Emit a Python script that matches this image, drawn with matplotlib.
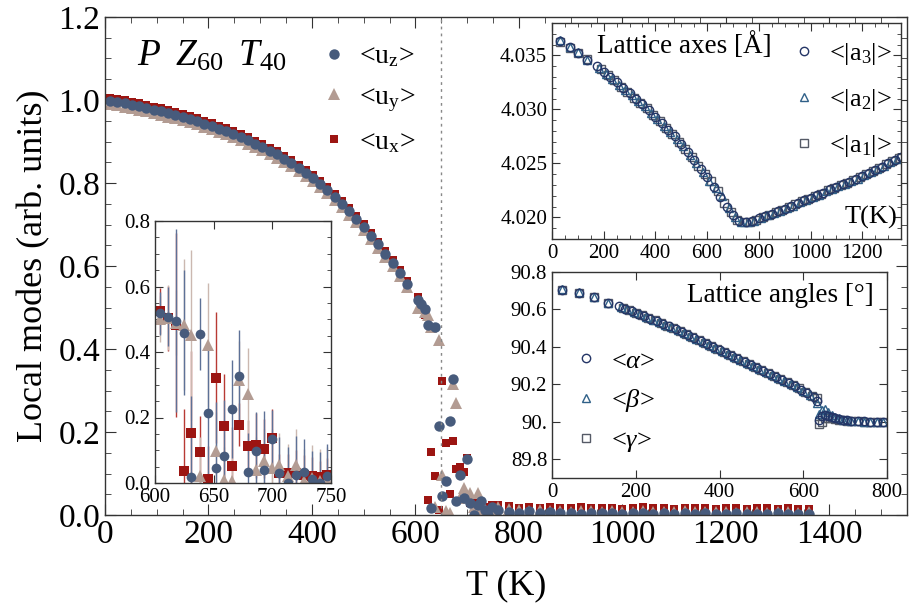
import matplotlib
matplotlib.use("Agg")
import matplotlib.pyplot as plt
from matplotlib.ticker import MultipleLocator, FormatStrFormatter, FixedLocator, FixedFormatter

plt.rcParams['font.family'] = ['Liberation Serif', 'DejaVu Serif']
plt.rcParams['mathtext.fontset'] = 'custom'
plt.rcParams['mathtext.rm'] = 'Liberation Serif'
plt.rcParams['mathtext.it'] = 'Liberation Serif:italic'

# ---- main panel: local modes vs T ----
T_curve = [10, 24, 38, 52, 66, 80, 94, 108, 122, 136, 150, 164, 178, 192, 206, 220, 234,
           248, 262, 276, 290, 304, 318, 332, 346, 360, 374, 388, 402, 416, 430, 444, 458,
           472, 486, 500, 514, 528, 542, 556, 570, 584]
uz_curve = [0.998, 0.995, 0.992, 0.988, 0.985, 0.981, 0.977, 0.973, 0.968, 0.964, 0.959,
            0.954, 0.949, 0.943, 0.937, 0.931, 0.925, 0.918, 0.911, 0.903, 0.895, 0.887,
            0.878, 0.869, 0.859, 0.848, 0.837, 0.825, 0.812, 0.798, 0.783, 0.767, 0.750,
            0.732, 0.713, 0.694, 0.673, 0.652, 0.630, 0.607, 0.583, 0.557]
uy_curve = [0.990, 0.987, 0.984, 0.980, 0.977, 0.973, 0.969, 0.965, 0.960, 0.956, 0.951,
            0.946, 0.941, 0.935, 0.929, 0.923, 0.917, 0.910, 0.903, 0.895, 0.887, 0.879,
            0.870, 0.861, 0.851, 0.840, 0.829, 0.817, 0.804, 0.790, 0.775, 0.759, 0.742,
            0.724, 0.705, 0.686, 0.665, 0.644, 0.622, 0.599, 0.575, 0.549]
ux_curve = [1.005, 1.002, 0.999, 0.995, 0.992, 0.988, 0.984, 0.980, 0.975, 0.971, 0.966,
            0.961, 0.956, 0.950, 0.944, 0.938, 0.932, 0.925, 0.918, 0.910, 0.902, 0.894,
            0.885, 0.876, 0.866, 0.855, 0.844, 0.832, 0.819, 0.805, 0.790, 0.774, 0.757,
            0.739, 0.720, 0.701, 0.680, 0.659, 0.637, 0.614, 0.590, 0.564]

# transition region (also shown in the zoom inset, with error bars)
T_tr = [604, 611, 618, 625, 631, 638, 645, 652, 659, 666, 672, 679, 686, 693, 700, 706,
        713, 720, 727, 734, 741, 747]
uz_tr = [0.518, 0.508, 0.496, 0.459, 0.017, 0.454, 0.215, 0.046, 0.083, 0.227, 0.327,
         0.034, 0.097, 0.041, 0.134, 0.030, 0.0, 0.025, 0.033, 0.012, 0.0, 0.020]
uz_err = [0.065, 0.09, 0.28, 0.19, 0.25, 0.11, 0.2, 0.2, 0.17, 0.15, 0.14, 0.12, 0.12,
          0.18, 0.09, 0.11, 0.11, 0.12, 0.1, 0.085, 0.095, 0.1]
uy_tr = [0.500, 0.505, 0.490, 0.483, 0.452, 0.020, 0.422, 0.097, 0.010, 0.005, 0.315,
         0.271, 0.041, 0.066, 0.046, 0.054, 0.020, 0.054, 0.005, 0.015, 0.005, 0.010]
uy_err = [0.07, 0.1, 0.1, 0.2, 0.26, 0.12, 0.19, 0.12, 0.1, 0.1, 0.12, 0.14, 0.1, 0.1,
          0.12, 0.1, 0.1, 0.11, 0.1, 0.1, 0.1, 0.1]
ux_tr = [0.525, 0.503, 0.483, 0.036, 0.152, 0.094, 0.013, 0.322, 0.173, 0.051, 0.178,
         0.112, 0.115, 0.104, 0.137, 0.030, 0.030, 0.030, 0.025, 0.020, 0.018, 0.025]
ux_err = [0.07, 0.1, 0.28, 0.19, 0.25, 0.11, 0.1, 0.2, 0.16, 0.12, 0.065, 0.08, 0.1,
          0.09, 0.09, 0.06, 0.06, 0.07, 0.06, 0.06, 0.05, 0.05]

T_tail = [760, 780, 800, 820, 840, 860, 880, 900, 920, 940, 960, 980, 1000, 1020, 1040,
          1060, 1080, 1100, 1120, 1140, 1160, 1180, 1200, 1220, 1240, 1260, 1280, 1300,
          1320, 1340, 1360]
uz_tail = [0.012, 0.008, 0.006, 0.010, 0.004, 0.007, 0.005, 0.006, 0.003, 0.005, 0.004,
           0.006, 0.003, 0.004, 0.005, 0.003, 0.004, 0.002, 0.004, 0.003, 0.005, 0.003,
           0.002, 0.004, 0.003, 0.003, 0.002, 0.004, 0.003, 0.002, 0.003]
uy_tail = [0.020, 0.015, 0.012, 0.010, 0.011, 0.009, 0.010, 0.008, 0.009, 0.010, 0.008,
           0.009, 0.007, 0.008, 0.009, 0.008, 0.007, 0.008, 0.009, 0.007, 0.008, 0.007,
           0.008, 0.006, 0.008, 0.007, 0.006, 0.008, 0.007, 0.006, 0.007]
ux_tail = [0.025, 0.022, 0.018, 0.020, 0.017, 0.019, 0.016, 0.018, 0.020, 0.017, 0.016,
           0.018, 0.015, 0.017, 0.019, 0.016, 0.017, 0.015, 0.018, 0.016, 0.017, 0.015,
           0.016, 0.018, 0.015, 0.016, 0.017, 0.015, 0.016, 0.014, 0.015]

T_c = 650

# ---- lattice axes inset ----
T_a3 = [32, 68, 100, 135, 175, 200, 225, 250, 275, 300, 325, 350, 375, 400, 425, 450, 475,
        500, 525, 550, 575, 600, 625, 650, 675, 700, 725, 750, 775, 800, 825, 850, 875,
        900, 925, 950, 975, 1000, 1025, 1050, 1075, 1100, 1125, 1150, 1175, 1200, 1225,
        1250, 1275, 1300, 1325, 1350]
a3 = [4.0363, 4.0358, 4.0352, 4.0346, 4.0340, 4.0335, 4.0330, 4.0325, 4.0320, 4.0315,
      4.0310, 4.0305, 4.0299, 4.0293, 4.0287, 4.0281, 4.0275, 4.0268, 4.0261, 4.0253,
      4.0245, 4.0237, 4.0228, 4.0219, 4.0210, 4.0202, 4.0197, 4.0196, 4.0197, 4.0199,
      4.0201, 4.0203, 4.0206, 4.0208, 4.0211, 4.0213, 4.0216, 4.0218, 4.0221, 4.0223,
      4.0226, 4.0228, 4.0231, 4.0233, 4.0236, 4.0238, 4.0241, 4.0244, 4.0247, 4.0250,
      4.0253, 4.0256]
T_a2 = [32, 68, 100, 135, 183, 208, 233, 258, 283, 308, 333, 358, 383, 408, 433, 458, 483,
        508, 533, 558, 583, 608, 633, 658, 683, 708, 733, 758, 783, 808, 833, 858, 883,
        908, 933, 958, 983, 1008, 1033, 1058, 1083, 1108, 1133, 1158, 1183, 1208, 1233,
        1258, 1283, 1308, 1333]
a2 = [4.0364, 4.0358, 4.0353, 4.0346, 4.0338, 4.0333, 4.0328, 4.0323, 4.0318, 4.0313,
      4.0308, 4.0303, 4.0297, 4.0291, 4.0285, 4.0279, 4.0273, 4.0266, 4.0258, 4.0250,
      4.0242, 4.0234, 4.0227, 4.0220, 4.0209, 4.0200, 4.0196, 4.0196, 4.0197, 4.0199,
      4.0202, 4.0204, 4.0206, 4.0209, 4.0211, 4.0214, 4.0216, 4.0219, 4.0221, 4.0224,
      4.0226, 4.0229, 4.0231, 4.0234, 4.0236, 4.0239, 4.0242, 4.0245, 4.0248, 4.0251,
      4.0254]
T_a1 = [32, 68, 100, 135, 191, 216, 241, 266, 291, 316, 341, 366, 391, 416, 441, 466, 491,
        516, 541, 566, 591, 616, 641, 666, 691, 716, 741, 766, 791, 816, 841, 866, 891,
        916, 941, 966, 991, 1016, 1041, 1066, 1091, 1116, 1141, 1166, 1191, 1216, 1241,
        1266, 1291, 1316, 1341]
a1 = [4.0362, 4.0357, 4.0352, 4.0347, 4.0337, 4.0332, 4.0327, 4.0321, 4.0316, 4.0311,
      4.0306, 4.0301, 4.0295, 4.0289, 4.0283, 4.0277, 4.0270, 4.0263, 4.0256, 4.0248,
      4.0240, 4.0234, 4.0224, 4.0213, 4.0205, 4.0198, 4.0196, 4.0196, 4.0198, 4.0200,
      4.0202, 4.0205, 4.0207, 4.0210, 4.0212, 4.0215, 4.0217, 4.0220, 4.0222, 4.0225,
      4.0227, 4.0230, 4.0232, 4.0235, 4.0237, 4.0240, 4.0243, 4.0246, 4.0249, 4.0252,
      4.0255]

# ---- lattice angles inset ----
T_alpha = [25, 65, 101, 133, 160, 175, 190, 205, 220, 235, 250, 265, 280, 295, 310, 325,
           340, 355, 370, 385, 400, 415, 430, 445, 460, 475, 490, 505, 520, 535, 550, 565,
           580, 595, 610, 625, 632, 638, 645, 652, 660, 668, 676, 685, 695, 705, 715, 730,
           745, 760, 775, 790]
alpha = [90.705, 90.690, 90.667, 90.635, 90.618, 90.605, 90.592, 90.578, 90.565, 90.551,
         90.537, 90.523, 90.509, 90.494, 90.479, 90.464, 90.448, 90.432, 90.417, 90.401,
         90.385, 90.369, 90.353, 90.337, 90.321, 90.305, 90.289, 90.273, 90.257, 90.241,
         90.224, 90.207, 90.190, 90.172, 90.153, 90.130, 90.110, 90.010, 90.030, 90.035,
         90.030, 90.025, 90.020, 90.015, 90.012, 90.010, 90.006, 90.004, 90.002, 90.001,
         90.000, 90.000]
T_beta = [25, 65, 101, 133, 165, 180, 195, 210, 225, 240, 255, 270, 285, 300, 315, 330,
          345, 360, 375, 390, 405, 420, 435, 450, 465, 480, 495, 510, 525, 540, 555, 570,
          585, 600, 615, 632, 638, 645, 652, 660, 668, 676, 685, 695, 705, 715, 730, 745,
          760, 775, 790]
beta = [90.707, 90.691, 90.668, 90.636, 90.614, 90.601, 90.587, 90.574, 90.560, 90.546,
        90.532, 90.518, 90.504, 90.489, 90.474, 90.459, 90.443, 90.427, 90.412, 90.396,
        90.380, 90.364, 90.348, 90.332, 90.316, 90.300, 90.284, 90.268, 90.252, 90.235,
        90.218, 90.201, 90.184, 90.166, 90.145, 90.100, 90.040, 90.065, 90.070, 90.050,
        90.035, 90.025, 90.018, 90.012, 90.008, 90.006, 90.003, 90.001, 90.000, 90.000,
        89.999]
T_gamma = [25, 65, 101, 133, 170, 185, 200, 215, 230, 245, 260, 275, 290, 305, 320, 335,
           350, 365, 380, 395, 410, 425, 440, 455, 470, 485, 500, 515, 530, 545, 560, 575,
           590, 605, 620, 632, 638, 645, 652, 660, 668, 676, 685, 695, 705, 715, 730, 745,
           760, 775, 790]
gamma = [90.703, 90.689, 90.666, 90.634, 90.609, 90.596, 90.583, 90.569, 90.556, 90.542,
         90.528, 90.514, 90.499, 90.484, 90.469, 90.453, 90.437, 90.422, 90.406, 90.390,
         90.374, 90.358, 90.342, 90.326, 90.310, 90.294, 90.278, 90.262, 90.246, 90.230,
         90.212, 90.195, 90.178, 90.159, 90.140, 90.125, 89.990, 90.000, 90.020, 90.020,
         90.018, 90.015, 90.012, 90.008, 90.005, 90.003, 90.002, 90.000, 90.000, 89.999,
         90.000]

# colours
c_z, c_y, c_x = '#475b7c', '#b39c93', '#9c1512'
e_z, e_y, e_x = '#5d7197', '#cbb8b0', '#b83a34'
c_a3, c_a2, c_a1 = '#243566', '#2f6088', '#555a66'
frame = '#333333'

W, H = 909, 615
fig = plt.figure(figsize=(W / 100, H / 100), dpi=100)


def px_rect(l, t, r, b):
    return [l / W, 1 - b / H, (r - l) / W, (b - t) / H]


def style(ax, size):
    for s in ax.spines.values():
        s.set_color(frame)
        s.set_linewidth(1)
    ax.tick_params(which='both', direction='in', top=True, right=True, colors=frame,
                   labelcolor='black', labelsize=size)
    ax.tick_params(which='major', length=6)
    ax.tick_params(which='minor', length=3)


# main
ax = fig.add_axes(px_rect(105, 17, 907, 515))
T_main = T_curve + T_tr + T_tail
ax.plot(T_main, ux_curve + ux_tr + ux_tail, 's', color=c_x, ms=6, mew=0, label=r'<u$_{\rm x}$>')
ax.plot(T_main, uy_curve + uy_tr + uy_tail, '^', color=c_y, ms=8, mew=0, label=r'<u$_{\rm y}$>')
ax.plot(T_main, uz_curve + uz_tr + uz_tail, 'o', color=c_z, ms=7.5, mew=0, label=r'<u$_{\rm z}$>')
ax.axvline(T_c, color='#888888', ls=(0, (2, 3)), lw=1)
ax.set_xlim(0, 1550)
ax.set_ylim(0, 1.2)
ax.xaxis.set_major_locator(FixedLocator([0, 200, 400, 600, 800, 1000, 1200, 1400]))
ax.xaxis.set_minor_locator(MultipleLocator(50))
ax.yaxis.set_major_locator(MultipleLocator(0.2))
ax.yaxis.set_minor_locator(MultipleLocator(0.05))
ax.yaxis.set_major_formatter(FormatStrFormatter('%.1f'))
style(ax, 24)
ax.tick_params(which='major', length=8)
ax.tick_params(which='minor', length=4)
ax.set_xlabel('T (K)', fontsize=26, labelpad=14)
ax.set_ylabel('Local modes (arb. units)', fontsize=26, labelpad=6)
h, l = ax.get_legend_handles_labels()
ax.legend(h[::-1], l[::-1], loc='upper left', bbox_to_anchor=(306 / W, 1 - 30 / H),
          bbox_transform=fig.transFigure, frameon=False, fontsize=20, handlelength=1.0,
          handletextpad=0.4, labelspacing=0.55, borderpad=0)
ax.text(0.04, 0.92, r'$P\;\; Z_{60}\;\; T_{40}$', transform=ax.transAxes, fontsize=27,
        va='center', ha='left')

# zoom inset on the transition
ax1 = fig.add_axes(px_rect(155, 221, 331, 483))
ax1.set_facecolor('white')
ax1.errorbar(T_tr, ux_tr, yerr=ux_err, fmt='s', color=c_x, ecolor=e_x, ms=7, mew=0,
             elinewidth=1, capsize=3, capthick=1)
ax1.errorbar(T_tr, uy_tr, yerr=uy_err, fmt='^', color=c_y, ecolor=e_y, ms=8, mew=0,
             elinewidth=1, capsize=3, capthick=1)
ax1.errorbar(T_tr, uz_tr, yerr=uz_err, fmt='o', color=c_z, ecolor=e_z, ms=7, mew=0,
             elinewidth=1, capsize=3, capthick=1)
ax1.set_xlim(600, 750)
ax1.set_ylim(0, 0.8)
ax1.xaxis.set_major_locator(MultipleLocator(50))
ax1.yaxis.set_major_locator(MultipleLocator(0.2))
ax1.yaxis.set_minor_locator(MultipleLocator(0.05))
ax1.yaxis.set_major_formatter(FormatStrFormatter('%.1f'))
style(ax1, 15)

# lattice axes inset
ax2 = fig.add_axes(px_rect(552, 23, 901, 239))
ax2.set_facecolor('white')
ax2.plot(T_a1, a1, 's', mfc='none', mec=c_a1, ms=5.5, mew=1, label=r'<|a$_1$|>')
ax2.plot(T_a2, a2, '^', mfc='none', mec=c_a2, ms=6, mew=1, label=r'<|a$_2$|>')
ax2.plot(T_a3, a3, 'o', mfc='none', mec=c_a3, ms=6, mew=1, label=r'<|a$_3$|>')
ax2.set_xlim(0, 1350)
ax2.set_ylim(4.018, 4.038)
ax2.xaxis.set_major_locator(MultipleLocator(200))
ax2.xaxis.set_minor_locator(MultipleLocator(50))
ax2.yaxis.set_major_locator(FixedLocator([4.020, 4.025, 4.030, 4.035]))
ax2.yaxis.set_minor_locator(MultipleLocator(0.001))
ax2.yaxis.set_major_formatter(FormatStrFormatter('%.3f'))
style(ax2, 15)
h, l = ax2.get_legend_handles_labels()
ax2.legend(h[::-1], l[::-1], loc='upper left', bbox_to_anchor=(778 / W, 1 - 28 / H),
           bbox_transform=fig.transFigure, frameon=False, fontsize=19, handlelength=1.0,
           handletextpad=0.45, labelspacing=0.75, borderpad=0)
ax2.text(0.13, 0.895, 'Lattice axes [Å]', transform=ax2.transAxes, fontsize=19.5,
         va='center', ha='left')
ax2.text(0.99, 0.1, 'T(K)', transform=ax2.transAxes, fontsize=19, va='center', ha='right')

# lattice angles inset
ax3 = fig.add_axes(px_rect(552, 272, 887, 478))
ax3.set_facecolor('white')
ax3.plot(T_gamma, gamma, 's', mfc='none', mec=c_a1, ms=5.5, mew=1, label=r'<$\gamma$>')
ax3.plot(T_beta, beta, '^', mfc='none', mec=c_a2, ms=6, mew=1, label=r'<$\beta$>')
ax3.plot(T_alpha, alpha, 'o', mfc='none', mec=c_a3, ms=6, mew=1, label=r'<$\alpha$>')
ax3.set_xlim(0, 800)
ax3.set_ylim(89.7, 90.8)
ax3.xaxis.set_major_locator(MultipleLocator(200))
ax3.yaxis.set_major_locator(FixedLocator([89.8, 90.0, 90.2, 90.4, 90.6, 90.8]))
ax3.yaxis.set_major_formatter(FixedFormatter(['89.8', '90.', '90.2', '90.4', '90.6', '90.8']))
style(ax3, 15)
h, l = ax3.get_legend_handles_labels()
ax3.legend(h[::-1], l[::-1], loc='upper left', bbox_to_anchor=(560 / W, 1 - 336 / H),
           bbox_transform=fig.transFigure, frameon=False, fontsize=19, handlelength=1.0,
           handletextpad=0.45, labelspacing=0.55, borderpad=0)
ax3.text(0.96, 0.885, 'Lattice angles [°]', transform=ax3.transAxes, fontsize=19.5,
         va='center', ha='right')

fig.savefig('out.png', dpi=100)
